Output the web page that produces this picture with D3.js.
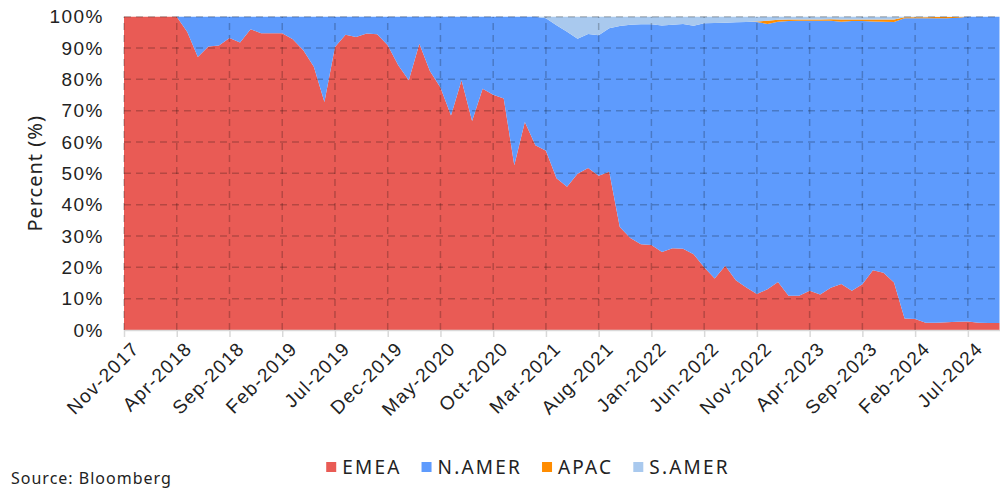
<!DOCTYPE html>
<html>
<head>
<meta charset="utf-8">
<script src="https://cdn.jsdelivr.net/npm/d3@7"></script>
<style>
  body { margin: 0; background: #fff; }
  svg { font-family: 'Noto Sans', sans-serif; }
</style>
</head>
<body>
<div id="chart"></div>
<script>
// monthly share by region, Nov-2017 .. Oct-2024
const months = d3.timeMonth.range(new Date(2017, 10, 1), new Date(2024, 10, 1))
const regions = ['EMEA', 'N.AMER', 'APAC', 'S.AMER']
const colors = ['#E95B55', '#5E9BFD', '#FF8C00', '#A9C9EE']

const emea = [100, 100, 100, 100, 100, 100, 95.1, 87.1, 90.5, 90.8,
  93.2, 91.8, 96.0, 94.7, 94.7, 94.7, 92.8, 89.3, 84.0, 72.8,
  90.3, 94.2, 93.5, 94.6, 94.4, 90.9, 84.5, 79.7, 91.4, 82.7,
  77.4, 68.5, 79.7, 66.7, 77.0, 75.1, 73.9, 52.6, 66.4, 59.0,
  57.2, 48.4, 45.7, 49.9, 51.7, 49.2, 50.5, 32.9, 29.4, 27.4,
  27.1, 24.9, 26.1, 25.9, 24.2, 20.0, 16.4, 20.5, 15.9, 13.6,
  11.5, 13.0, 15.3, 10.9, 10.9, 12.5, 11.3, 13.5, 14.7, 12.5,
  14.6, 19.1, 18.3, 15.2, 3.7, 3.5, 2.3, 2.3, 2.5, 2.6,
  2.7, 2.3, 2.2, 2.2]
const namer = [0, 0, 0, 0, 0, 0, 4.9, 12.9, 9.5, 9.2,
  6.8, 8.2, 4.0, 5.3, 5.3, 5.3, 7.2, 10.7, 16.0, 27.2,
  9.7, 5.8, 6.5, 5.4, 5.6, 9.1, 15.5, 20.3, 8.6, 17.3,
  22.6, 31.5, 20.3, 33.3, 23.0, 24.9, 26.1, 47.4, 33.6, 41.0,
  42.3, 48.9, 49.5, 43.1, 42.8, 44.9, 45.8, 64.1, 68.0, 70.2,
  70.5, 72.3, 71.3, 71.8, 72.9, 77.9, 81.6, 77.6, 82.3, 84.7,
  86.8, 84.7, 83.1, 87.7, 87.8, 86.2, 87.4, 85.2, 83.7, 86.1,
  84.0, 79.4, 80.1, 83.1, 95.8, 96.0, 97.2, 97.2, 97.0, 97.1,
  97.3, 97.7, 97.8, 97.8]
const apac = [0, 0, 0, 0, 0, 0, 0, 0, 0, 0,
  0, 0, 0, 0, 0, 0, 0, 0, 0, 0,
  0, 0, 0, 0, 0, 0, 0, 0, 0, 0,
  0, 0, 0, 0, 0, 0, 0, 0, 0, 0,
  0, 0, 0, 0, 0, 0, 0, 0, 0, 0,
  0, 0, 0, 0, 0, 0, 0, 0, 0, 0,
  0.2, 1.0, 0.6, 0.5, 0.4, 0.4, 0.4, 0.5, 0.7, 0.5,
  0.5, 0.6, 0.7, 0.8, 0.3, 0.3, 0.3, 0.4, 0.4, 0.2,
  0, 0, 0, 0]
const samer = [0, 0, 0, 0, 0, 0, 0, 0, 0, 0,
  0, 0, 0, 0, 0, 0, 0, 0, 0, 0,
  0, 0, 0, 0, 0, 0, 0, 0, 0, 0,
  0, 0, 0, 0, 0, 0, 0, 0, 0, 0,
  0.5, 2.7, 4.8, 7.0, 5.5, 5.9, 3.7, 3.0, 2.6, 2.4,
  2.4, 2.8, 2.6, 2.3, 2.9, 2.1, 2.0, 1.9, 1.8, 1.7,
  1.5, 1.3, 1.0, 0.9, 0.9, 0.9, 0.9, 0.8, 0.9, 0.9,
  0.9, 0.9, 0.9, 0.9, 0.2, 0.2, 0.2, 0.1, 0.1, 0.1,
  0, 0, 0, 0]
const xTickLabels = ['Nov-2017', 'Apr-2018', 'Sep-2018', 'Feb-2019', 'Jul-2019', 'Dec-2019',
  'May-2020', 'Oct-2020', 'Mar-2021', 'Aug-2021', 'Jan-2022', 'Jun-2022', 'Nov-2022',
  'Apr-2023', 'Sep-2023', 'Feb-2024', 'Jul-2024']
const yTicks = [0, 0.1, 0.2, 0.3, 0.4, 0.5, 0.6, 0.7, 0.8, 0.9, 1]

const W = 1000
const H = 488
const margins = { top: 16.7, right: 0.5, bottom: 158, left: 124 }

const fmtMonth = d3.timeFormat('%b-%Y')
const labels = months.map(fmtMonth)
const rows = months.map((m, i) => ({
  month: labels[i],
  'EMEA': emea[i],
  'N.AMER': namer[i],
  'APAC': apac[i],
  'S.AMER': samer[i]
}))

const svg = d3.select('#chart').append('svg')
  .attr('width', W)
  .attr('height', H)

const x = d3.scalePoint(labels, [margins.left, W - margins.right])
const y = d3.scaleLinear([0, 1], [H - margins.bottom, margins.top])

const series = d3.stack().keys(regions).offset(d3.stackOffsetExpand)(rows)

const area = d3.area()
  .x(d => x(d.data.month))
  .y0(d => y(d[0]))
  .y1(d => y(d[1]))

svg.append('g')
  .selectAll('path')
  .data(series)
  .join('path')
  .attr('fill', (d, i) => colors[i])
  .attr('d', area)

// bottom axis with rotated labels
const xAxis = svg.append('g')
  .attr('transform', `translate(0, ${H - margins.bottom})`)
  .call(d3.axisBottom(x).tickValues(xTickLabels).tickSize(7).tickSizeOuter(0))
xAxis.select('.domain').attr('stroke', '#d9d9d9').attr('stroke-width', 1.5)
xAxis.selectAll('.tick line').attr('stroke', '#d9d9d9').attr('stroke-width', 1.5)
xAxis.selectAll('.tick text')
  .attr('font-size', 19)
  .attr('letter-spacing', 1.3)
  .attr('fill', '#222')
  .attr('text-anchor', 'end')
  .attr('dy', '0.35em')
  .attr('transform', 'translate(4, 8) rotate(-45)')

// gridlines over the areas
const grid = svg.append('g')
  .attr('stroke', '#000')
  .attr('stroke-opacity', 0.22)
  .attr('stroke-width', 1.5)
  .attr('stroke-dasharray', '7,5')
grid.selectAll('line.h')
  .data(yTicks.slice(1))
  .join('line')
  .attr('x1', margins.left)
  .attr('x2', W)
  .attr('y1', d => y(d))
  .attr('y2', d => y(d))
grid.selectAll('line.v')
  .data(xTickLabels)
  .join('line')
  .attr('x1', d => x(d))
  .attr('x2', d => x(d))
  .attr('y1', y(0))
  .attr('y2', y(1))

const yAxis = svg.append('g')
  .attr('transform', `translate(${margins.left}, 0)`)
  .call(d3.axisLeft(y).tickValues(yTicks).tickFormat(d3.format('.0%')).tickSize(0).tickPadding(20))
yAxis.select('.domain').remove()
yAxis.selectAll('.tick text')
  .attr('font-size', 19)
  .attr('letter-spacing', 1.5)
  .attr('fill', '#222')

svg.append('text')
  .attr('transform', `translate(42, ${(y(0) + y(1)) / 2}) rotate(-90)`)
  .attr('text-anchor', 'middle')
  .attr('font-size', 20)
  .attr('letter-spacing', 1)
  .attr('fill', '#222')
  .text('Percent (%)')

// legend
const legend = svg.append('g').attr('transform', 'translate(0, 467)')
let lx = 0
const items = legend.selectAll('g')
  .data(regions)
  .join('g')
items.append('rect')
  .attr('y', -5)
  .attr('width', 10)
  .attr('height', 10)
  .attr('fill', (d, i) => colors[i])
items.append('text')
  .attr('x', 16)
  .attr('y', 6.5)
  .attr('font-size', 19)
  .attr('letter-spacing', 2.2)
  .attr('fill', '#222')
  .text(d => d)
items.each(function () {
  const g = d3.select(this)
  g.attr('transform', `translate(${lx}, 0)`)
  lx += 16 + g.select('text').node().getComputedTextLength() + 20
})
lx -= 20
legend.attr('transform', `translate(${528 - lx / 2}, 467)`)

svg.append('text')
  .attr('x', 11)
  .attr('y', 484)
  .attr('font-size', 16)
  .attr('letter-spacing', 1)
  .attr('fill', '#222')
  .text('Source: Bloomberg')
</script>
</body>
</html>
